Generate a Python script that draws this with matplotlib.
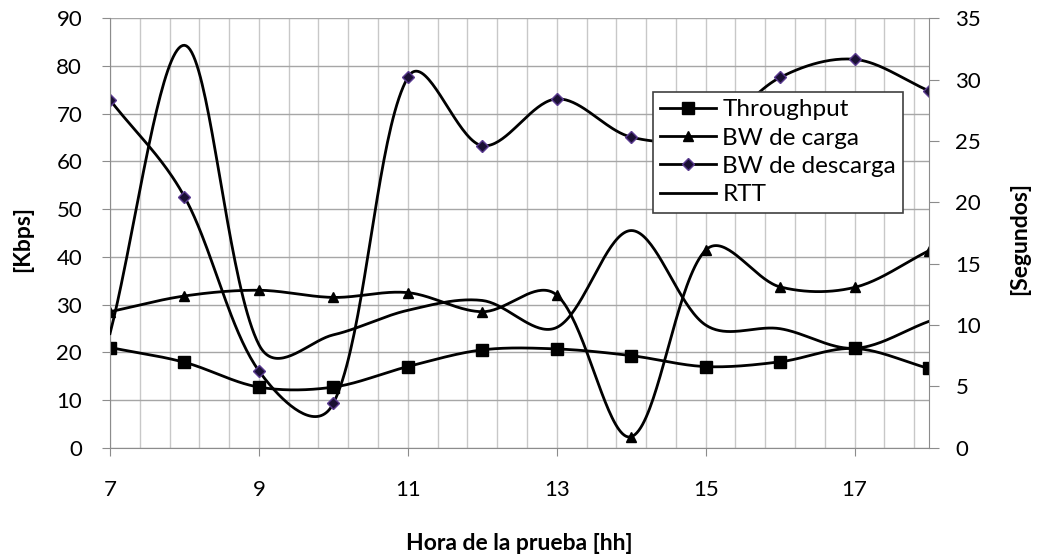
import matplotlib.pyplot as plt
import numpy as np

plt.rcParams['font.family'] = ['Lato', 'DejaVu Sans']

hora = [7, 8, 9, 10, 11, 12, 13, 14, 15, 16, 17, 18]
throughput = [21.0, 17.9, 12.7, 12.7, 17.0, 20.5, 20.7, 19.3, 17.0, 18.0, 20.8, 16.6]
bw_carga = [28.5, 31.8, 33.0, 31.5, 32.5, 28.5, 32.0, 2.3, 41.4, 33.7, 33.6, 41.3]
bw_descarga = [72.9, 52.6, 16.1, 9.3, 77.6, 63.3, 73.1, 65.1, 65.5, 77.6, 81.4, 74.8]
rtt = [9.3, 32.8, 8.4, 9.2, 11.2, 12.0, 9.8, 17.7, 10.0, 9.7, 8.1, 10.3]

x_ticks = [7, 9, 11, 13, 15, 17]

# escala en pixeles de cada eje, para suavizar en espacio de pantalla
PX_HORA = 74.45
PX_KBPS = 4.771
PX_SEG = 12.27


def suavizar(x, y, sy, n=40, w=0.5):
    # curva suave con Bezier cubica; asas mezcla de Catmull-Rom y
    # proporcionales a la longitud de cada tramo
    p = np.column_stack([np.asarray(x, float) * PX_HORA,
                         np.asarray(y, float) * sy])
    k = len(p)
    pe = np.vstack([p[0], p, p[-1]])
    ant = np.zeros_like(p)
    sig = np.zeros_like(p)
    for i in range(k):
        t = pe[i + 2] - pe[i]
        d0 = np.hypot(*(pe[i + 1] - pe[i]))
        d1 = np.hypot(*(pe[i + 2] - pe[i + 1]))
        s = d0 + d1
        f0 = (1 - w) / 6 + w * (d0 / s) / 3
        f1 = (1 - w) / 6 + w * (d1 / s) / 3
        if d0 == 0:
            f0, f1 = 0, 1 / 3
        if d1 == 0:
            f0, f1 = 1 / 3, 0
        ant[i] = p[i] - t * f0
        sig[i] = p[i] + t * f1
    t = np.linspace(0, 1, n, endpoint=False)[:, None]
    tramos = []
    for i in range(k - 1):
        b = ((1 - t)**3 * p[i] + 3*(1 - t)**2*t * sig[i]
             + 3*(1 - t)*t**2 * ant[i + 1] + t**3 * p[i + 1])
        tramos.append(b)
    tramos.append(p[-1][None, :])
    c = np.vstack(tramos)
    marcas = list(range(0, n*(k - 1) + 1, n))
    return c[:, 0] / PX_HORA, c[:, 1] / sy, marcas


fig = plt.figure(figsize=(10.37, 5.55), dpi=100)
ax = fig.add_axes([110/1037, 1-447.7/555, 819/1037, 429.4/555])
ax2 = ax.twinx()

lw = 2.0
xs, ys, mk = suavizar(hora, throughput, PX_KBPS)
l1, = ax.plot(xs, ys, color='black', lw=lw, marker='s', markersize=8,
              markevery=mk, label='Throughput')
xs, ys, mk = suavizar(hora, bw_carga, PX_KBPS)
l2, = ax.plot(xs, ys, color='black', lw=lw, marker='^', markersize=7,
              markevery=mk, label='BW de carga')
xs, ys, mk = suavizar(hora, bw_descarga, PX_KBPS)
l3, = ax.plot(xs, ys, color='black', lw=lw, marker='D', markersize=6,
              markerfacecolor='#1a1033', markeredgecolor='#5a3a90',
              markevery=mk, label='BW de descarga')
xs, ys, mk = suavizar(hora, rtt, PX_SEG)
l4, = ax2.plot(xs, ys, color='black', lw=lw, label='RTT')

ax.set_xlim(7, 18)
ax.set_ylim(0, 90)
ax2.set_ylim(0, 35)
ax.set_yticks(range(0, 91, 10))
ax2.set_yticks(range(0, 36, 5))
ax.set_xticks(x_ticks)
ax.set_xticks(np.arange(7, 18.01, 0.4), minor=True)

ax.grid(axis='x', which='both', color='#c8c8c8', lw=1.0)
ax.grid(axis='y', which='major', color='#a6a6a6', lw=1.0)
ax.set_axisbelow(True)

for a in (ax, ax2):
    a.spines['top'].set_visible(False)
    for s in ('left', 'right', 'bottom'):
        a.spines[s].set_color('#8c8c8c')
ax.spines['right'].set_visible(False)
ax2.spines['left'].set_visible(False)
ax2.spines['bottom'].set_visible(False)

ax.tick_params(axis='x', which='major', length=6, color='#8c8c8c',
               labelsize=16, pad=17)
ax.tick_params(axis='x', which='minor', length=0)
ax.tick_params(axis='y', length=6, color='#8c8c8c', labelsize=16, pad=14)
ax2.tick_params(axis='y', length=7, color='#8c8c8c', labelsize=16, pad=12)

fig.text(519/1037, 1-550.5/555, 'Hora de la prueba [hh]', fontsize=16.5,
         fontweight='bold', ha='center', va='baseline')
fig.text(23/1037, 1-239/555, '[Kbps]', fontsize=16.5, fontweight='bold',
         rotation=90, ha='center', va='center')
fig.text(1020/1037, 1-238/555, '[Segundos]', fontsize=16.5,
         fontweight='bold', rotation=90, ha='center', va='center')

leg = ax2.legend(handles=[l1, l2, l3, l4], loc='upper left',
                 bbox_to_anchor=((653-110)/819, (447.7-92)/429.4),
                 borderaxespad=0, fontsize=17.5, frameon=True, fancybox=False,
                 handlelength=2.3, handletextpad=0.25, labelspacing=0.3,
                 borderpad=0.3)
leg.get_frame().set_edgecolor('#404040')
leg.get_frame().set_linewidth(1.2)
leg.get_frame().set_alpha(1)

fig.savefig('out.png', dpi=100)
